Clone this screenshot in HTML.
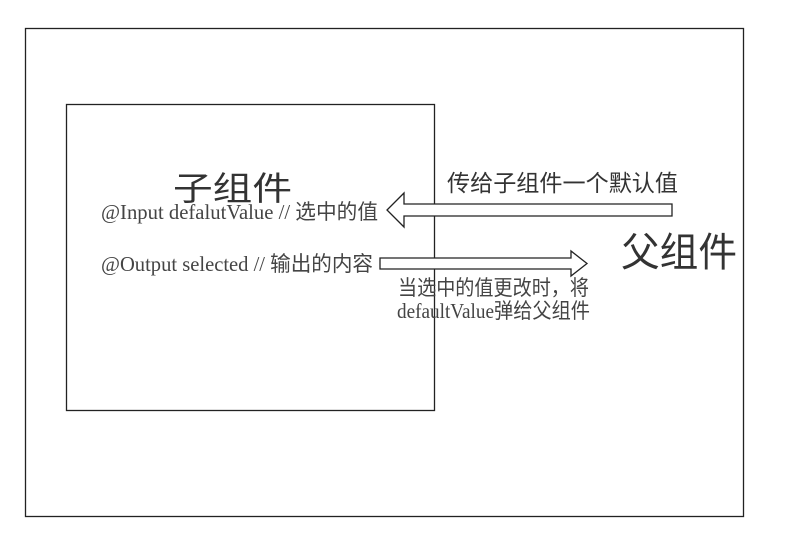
<!DOCTYPE html>
<html><head><meta charset="utf-8"><style>html,body{margin:0;padding:0;background:#fff}svg{display:block}</style></head><body>
<svg width="800" height="544" xmlns="http://www.w3.org/2000/svg">
<rect x="25.5" y="28.5" width="718" height="488" fill="none" stroke="#222" stroke-width="1.3"/>
<rect x="66.5" y="104.5" width="368" height="306" fill="none" stroke="#222" stroke-width="1.3"/>
<path d="M672,204 L404,204 L404,193 L387,210 L404,227 L404,216 L672,216 Z" fill="#fff" stroke="#222" stroke-width="1.3"/>
<path d="M380,258 L571,258 L571,251 L587,263.5 L571,276 L571,269 L380,269 Z" fill="#fff" stroke="#222" stroke-width="1.3"/>
<g fill="#333" font-family="'Liberation Sans','Noto Sans CJK SC',sans-serif">
<text x="173" y="200" font-size="33" textLength="119" lengthAdjust="spacingAndGlyphs">子组件</text>
<text x="621" y="266" font-size="40" textLength="116" lengthAdjust="spacingAndGlyphs">父组件</text>
<text x="447" y="191" font-size="23" textLength="231" lengthAdjust="spacingAndGlyphs">传给子组件一个默认值</text>
</g>
<g fill="#444" font-family="'Liberation Serif','Noto Sans CJK SC',serif" font-size="21">
<text x="101" y="219" textLength="277" lengthAdjust="spacingAndGlyphs">@Input defalutValue // 选中的值</text>
<text x="101" y="271" textLength="272" lengthAdjust="spacingAndGlyphs">@Output selected // 输出的内容</text>
<text x="398" y="295" textLength="191" lengthAdjust="spacingAndGlyphs">当选中的值更改时，将</text>
<text x="397" y="318" textLength="193" lengthAdjust="spacingAndGlyphs">defaultValue弹给父组件</text>
</g>
</svg>
</body></html>
